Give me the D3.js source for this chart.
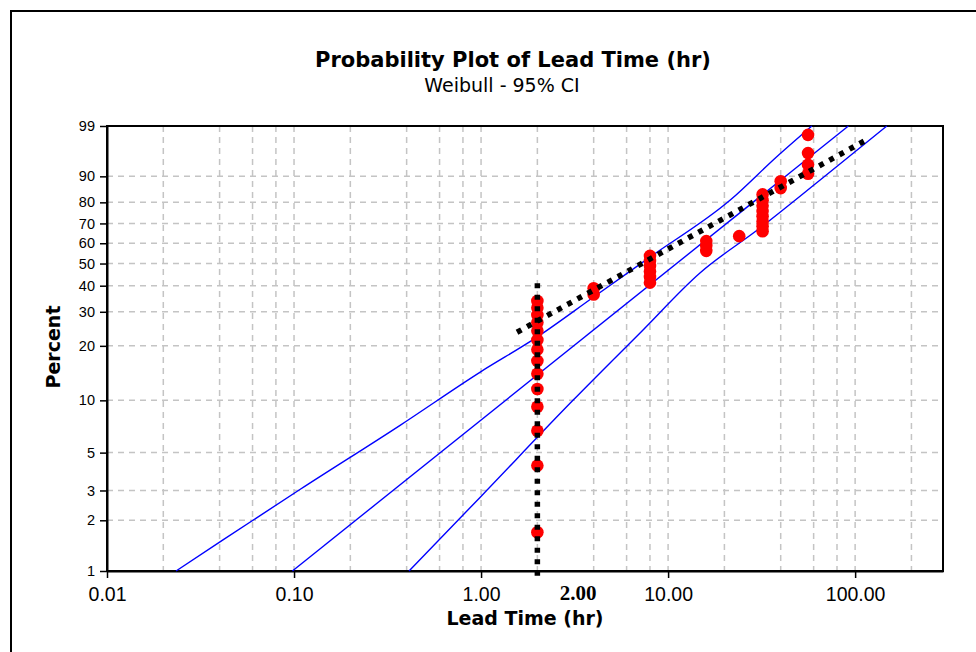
<!DOCTYPE html>
<html>
<head>
<meta charset="utf-8">
<script src="https://cdn.jsdelivr.net/npm/d3@7"></script>
<style>
  body { margin: 0; background: #fff; }
  svg { display: block; }
</style>
</head>
<body>
<div id="wrapper"></div>
<script>
// lead time of each observation (hr) and its plotted percent
const leadTimes = [2, 2, 2, 2, 2, 2, 2, 2, 2, 2, 2, 2, 2, 2,
    4, 4,
    8, 8, 8, 8, 8, 8,
    16, 16, 16,
    24,
    32, 32, 32, 32, 32, 32, 32, 32,
    40, 40,
    56, 56, 56, 56];
const percents = [1.7, 4.2, 6.7, 9.2, 11.6, 14.1, 16.6, 19.1, 21.5, 24.0, 26.5, 28.9, 31.4, 33.9,
    36.4, 38.9,
    41.3, 43.8, 46.3, 48.8, 51.2, 53.7,
    56.2, 58.7, 61.1,
    63.6,
    66.1, 68.6, 71.0, 73.5, 76.0, 78.5, 80.9, 83.4,
    85.9, 88.4,
    90.8, 93.3, 95.8, 98.3];

// Weibull fit and 95% confidence bounds [hr, percent]
const fitLine = [[0.098, 1], [92, 99]];
const upperBound = [[0.0234, 1], [0.0417, 1.53], [0.108, 3.05], [0.369, 7.2], [0.99, 14.4],
    [2.0, 22.3], [4.0, 35.4], [8.0, 53.1], [21.5, 81.0], [38.1, 95.1], [58.7, 99]];
const lowerBound = [[0.412, 1], [0.99, 2.74], [3.1, 10.0], [7.08, 23.4], [14.8, 45.6],
    [31.0, 67.7], [65.0, 88.8], [147.7, 99]];

// hand drawn trend line and the 2 hr reference line
const trendLine = [[1.557, 23.6], [115.5, 97.8]];
const refLine = { hr: 2, topPercent: 41 };

const xTicks = [0.01, 0.1, 1, 10, 100];
const xGrid = [0.02, 0.04, 0.06, 0.08, 0.1, 0.2, 0.4, 0.6, 0.8, 1, 2, 4, 6, 8,
    10, 20, 40, 60, 80, 100, 200];
const yTicks = [1, 2, 3, 5, 10, 20, 30, 40, 50, 60, 70, 80, 90, 99];
const yGrid = [2, 3, 5, 10, 20, 30, 40, 50, 60, 70, 80, 90];
const xDomain = [0.01, 295];
const yDomain = [1, 99];
const markLabel = { text: '2.00', hr: 3.3 };

const dimensions = {
    width: 976,
    height: 652,
    margin: { top: 126, right: 33, bottom: 81, left: 107 }
};
dimensions.boundedWidth = dimensions.width - dimensions.margin.left - dimensions.margin.right;
dimensions.boundedHeight = dimensions.height - dimensions.margin.top - dimensions.margin.bottom;

const wz = p => Math.log(-Math.log(1 - p / 100));

const svg = d3.select('#wrapper')
    .append('svg')
    .attr('width', dimensions.width)
    .attr('height', dimensions.height)
    .style('font-family', '"DejaVu Sans", Verdana, sans-serif');

// outer frame of the figure
svg.append('rect')
    .attr('x', 11)
    .attr('y', 11)
    .attr('width', 1000)
    .attr('height', 700)
    .attr('fill', 'none')
    .attr('stroke', '#000')
    .attr('stroke-width', 2);

const bounds = svg.append('g')
    .attr('transform', `translate(${dimensions.margin.left},${dimensions.margin.top})`);

const xScale = d3.scaleLog()
    .domain(xDomain)
    .range([0, dimensions.boundedWidth]);

const zScale = d3.scaleLinear()
    .domain([wz(yDomain[0]), wz(yDomain[1])])
    .range([dimensions.boundedHeight, 0]);

const yScale = p => zScale(wz(p));

// grid
bounds.append('g')
    .selectAll('line')
    .data(xGrid)
    .join('line')
    .attr('x1', d => xScale(d))
    .attr('x2', d => xScale(d))
    .attr('y1', 0)
    .attr('y2', dimensions.boundedHeight)
    .attr('stroke', '#c4c4c4')
    .attr('stroke-width', 1.5)
    .attr('stroke-dasharray', '6,5');

bounds.append('g')
    .selectAll('line')
    .data(yGrid)
    .join('line')
    .attr('x1', 0)
    .attr('x2', dimensions.boundedWidth)
    .attr('y1', d => yScale(d))
    .attr('y2', d => yScale(d))
    .attr('stroke', '#c4c4c4')
    .attr('stroke-width', 1.5)
    .attr('stroke-dasharray', '6,5');

// plot box
bounds.append('rect')
    .attr('width', dimensions.boundedWidth)
    .attr('height', dimensions.boundedHeight)
    .attr('fill', 'none')
    .attr('stroke', '#000')
    .attr('stroke-width', 2);

// axes
const xAxis = bounds.append('g')
    .attr('transform', `translate(0,${dimensions.boundedHeight})`)
    .call(d3.axisBottom(xScale)
        .tickValues(xTicks)
        .tickFormat(d3.format('.2f'))
        .tickSize(7)
        .tickSizeOuter(0)
        .tickPadding(9));
xAxis.selectAll('text').style('font-size', '19.5px').attr('fill', '#000');

const yAxis = bounds.append('g')
    .call(d3.axisLeft(zScale)
        .tickValues(yTicks.map(wz))
        .tickFormat((d, i) => yTicks[i])
        .tickSize(7)
        .tickSizeOuter(0)
        .tickPadding(5));
yAxis.selectAll('text').style('font-size', '14.5px').attr('fill', '#000');

[xAxis, yAxis].forEach(a => {
    a.select('.domain').attr('stroke', '#000').attr('stroke-width', 2);
    a.selectAll('.tick line').attr('stroke', '#000').attr('stroke-width', 1.5);
});

// fitted line and confidence bounds
const lineGen = d3.line()
    .x(d => xScale(d[0]))
    .y(d => yScale(d[1]));

const curveGen = d3.line()
    .x(d => xScale(d[0]))
    .y(d => yScale(d[1]))
    .curve(d3.curveMonotoneX);

bounds.append('g')
    .selectAll('path')
    .data([upperBound, fitLine, lowerBound])
    .join('path')
    .attr('d', curveGen)
    .attr('fill', 'none')
    .attr('stroke', '#0000ff')
    .attr('stroke-width', 1.4);

// observations
bounds.append('g')
    .selectAll('circle')
    .data(leadTimes.map((t, i) => ({ t: t, p: percents[i] })))
    .join('circle')
    .attr('cx', d => xScale(d.t))
    .attr('cy', d => yScale(d.p))
    .attr('r', 6.3)
    .attr('fill', '#ff0000');

// dotted black lines
bounds.append('path')
    .attr('d', lineGen(trendLine))
    .attr('fill', 'none')
    .attr('stroke', '#000')
    .attr('stroke-width', 5.5)
    .attr('stroke-dasharray', '5,6.5');

bounds.append('line')
    .attr('x1', xScale(refLine.hr))
    .attr('x2', xScale(refLine.hr))
    .attr('y1', yScale(refLine.topPercent))
    .attr('y2', dimensions.boundedHeight + 7)
    .attr('stroke', '#000')
    .attr('stroke-width', 5.5)
    .attr('stroke-dasharray', '5,6.5');

bounds.append('text')
    .attr('x', xScale(markLabel.hr))
    .attr('y', dimensions.boundedHeight + 29)
    .attr('text-anchor', 'middle')
    .style('font-family', '"Liberation Serif", "Times New Roman", serif')
    .style('font-weight', 'bold')
    .style('font-size', '21px')
    .text(markLabel.text);

// labels
bounds.append('text')
    .attr('x', dimensions.boundedWidth / 2)
    .attr('y', dimensions.boundedHeight + 54)
    .attr('text-anchor', 'middle')
    .style('font-weight', 'bold')
    .style('font-size', '19px')
    .text('Lead Time (hr)');

svg.append('text')
    .attr('transform', 'translate(60,347) rotate(-90)')
    .attr('text-anchor', 'middle')
    .style('font-weight', 'bold')
    .style('font-size', '19px')
    .text('Percent');

svg.append('text')
    .attr('x', 513)
    .attr('y', 67)
    .attr('text-anchor', 'middle')
    .style('font-weight', 'bold')
    .style('font-size', '21px')
    .text('Probability Plot of Lead Time (hr)');

svg.append('text')
    .attr('x', 502)
    .attr('y', 92)
    .attr('text-anchor', 'middle')
    .style('font-size', '19px')
    .text('Weibull - 95% CI');
</script>
</body>
</html>
